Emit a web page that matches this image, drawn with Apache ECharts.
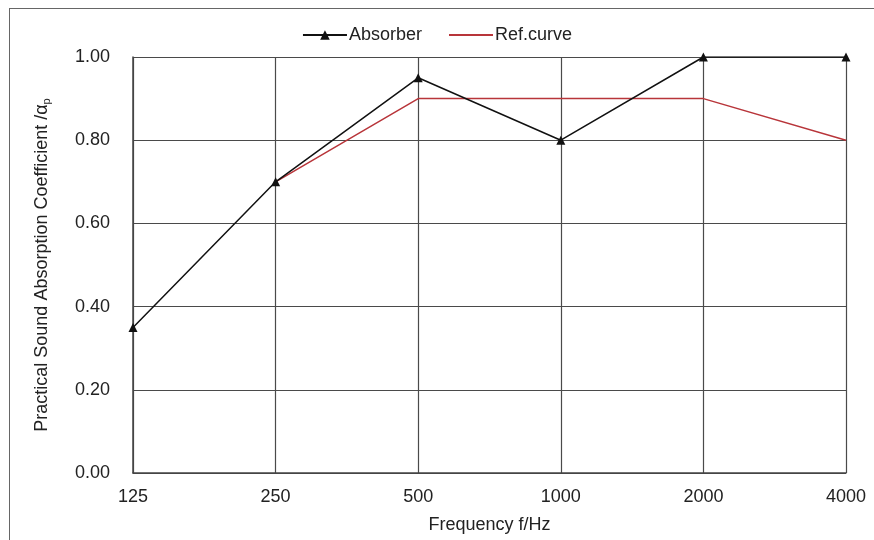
<!DOCTYPE html>
<html><head><meta charset="utf-8">
<script src="https://cdn.jsdelivr.net/npm/echarts@6/dist/echarts.min.js"></script>
<style>html,body{margin:0;padding:0;background:#fff}#frame{position:absolute;left:9px;top:8px;width:880px;height:560px;border:1.5px solid #666;box-sizing:border-box}#c{width:874px;height:540px;position:absolute;left:0;top:0}</style>
</head><body>
<div id="frame"></div>
<div id="c"></div>
<script>
const categories = ['125','250','500','1000','2000','4000'];
const absorber = [0.35, 0.70, 0.95, 0.80, 1.00, 1.00];
const refCurve = [null, 0.70, 0.90, 0.90, 0.90, 0.80];

const chart = echarts.init(document.getElementById('c'));
const font = 'Liberation Sans, Arial, sans-serif';
chart.setOption({
  animation: false,
  textStyle: {fontFamily: font},
  legend: {
    top: 21, left: 'center', itemGap: 26, itemWidth: 44, itemHeight: 12,
    textStyle: {fontSize: 18, color: '#222', fontFamily: font, padding: [0,0,0,-3]},
    data: ['Absorber', {name: 'Ref.curve', itemStyle: {opacity: 0}}]
  },
  grid: {left: 133, right: 28, top: 57, bottom: 67, containLabel: false},
  xAxis: {
    type: 'category', data: categories, boundaryGap: false,
    name: 'Frequency f/Hz', nameLocation: 'middle', nameGap: 43,
    nameTextStyle: {fontSize: 18, color: '#222', fontFamily: font},
    axisLine: {lineStyle: {color: '#444', width: 1.5}},
    axisTick: {show: false},
    axisLabel: {fontSize: 18, color: '#222', margin: 15, fontFamily: font},
    splitLine: {show: true, lineStyle: {color: '#4a4a4a', width: 1.2}}
  },
  yAxis: {
    type: 'value', min: 0, max: 1, interval: 0.2,
    name: '{n|Practical Sound Absorption Coefficient /α}{s|p}', nameLocation: 'middle', nameGap: 81,
    nameTextStyle: {rich: {n: {fontSize: 18, color: '#222', fontFamily: font}, s: {fontSize: 11, color: '#222', fontFamily: font, padding: [8,0,0,0]}}},
    axisLine: {show: true, lineStyle: {color: '#444', width: 1.5}},
    axisTick: {show: false},
    axisLabel: {fontSize: 18, color: '#222', margin: 23, fontFamily: font, formatter: v => v.toFixed(2)},
    splitLine: {show: true, lineStyle: {color: '#4a4a4a', width: 1.2}}
  },
  series: [
    {name: 'Absorber', type: 'line', data: absorber, symbol: 'triangle', symbolSize: 9,
     lineStyle: {color: '#111', width: 1.5}, itemStyle: {color: '#111'}, z: 3},
    {name: 'Ref.curve', type: 'line', data: refCurve, symbol: 'none', connectNulls: false,
     lineStyle: {color: '#b8353a', width: 1.5}, itemStyle: {color: '#b8353a'}, z: 2}
  ]
});
</script>
</body></html>
